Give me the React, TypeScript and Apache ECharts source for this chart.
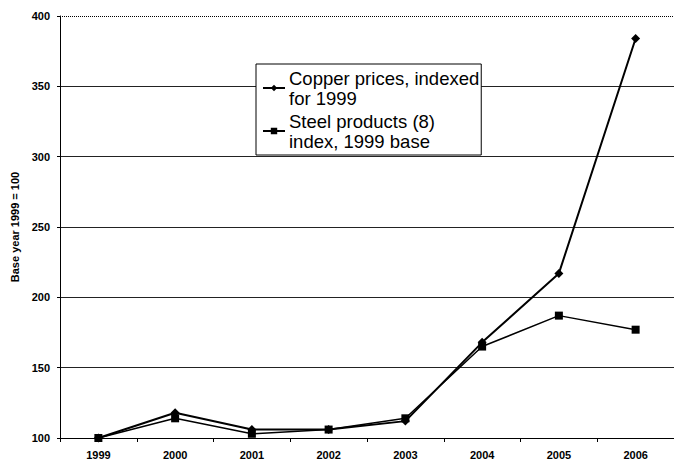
import React, { useEffect, useRef } from "react";
import * as echarts from "echarts";

const years = ["1999", "2000", "2001", "2002", "2003", "2004", "2005", "2006"];
const copper = [100, 118, 106, 106, 112, 168, 217, 384];
const steel = [100, 114, 103, 106, 114, 165, 187, 177];
const copperName = "Copper prices, indexed\nfor 1999";
const steelName = "Steel products (8)\nindex, 1999 base";

export default function App() {
  const ref = useRef<HTMLDivElement>(null);
  useEffect(() => {
    const chart = echarts.init(ref.current!, null, { renderer: "svg" });
    chart.setOption({
      animation: false,
      backgroundColor: "#fff",
      grid: { left: 60, top: 16, width: 616, height: 422, containLabel: false },
      legend: {
        orient: "vertical",
        left: 256,
        top: 64,
        padding: [4, 2, 4, 6],
        itemGap: 3,
        itemWidth: 22,
        itemHeight: 8,
        backgroundColor: "#fff",
        borderColor: "#000",
        borderWidth: 1,
        textStyle: { fontFamily: "Liberation Sans, Arial", fontSize: 18.5, color: "#000", lineHeight: 20, padding: [0, 0, 0, -1] },
        data: [copperName, steelName],
      },
      xAxis: {
        type: "category",
        data: years,
        boundaryGap: true,
        axisLine: { lineStyle: { color: "#000", width: 1 } },
        axisTick: { show: true, length: 4, lineStyle: { color: "#000" } },
        axisLabel: { fontFamily: "Liberation Sans, Arial", fontWeight: "bold", fontSize: 11, color: "#000", margin: 11 },
      },
      yAxis: {
        type: "value",
        min: 100,
        max: 400,
        interval: 50,
        name: "Base year 1999 = 100",
        nameLocation: "middle",
        nameGap: 40,
        nameTextStyle: { fontFamily: "Liberation Sans, Arial", fontWeight: "bold", fontSize: 11, color: "#000" },
        axisLine: { show: true, lineStyle: { color: "#000", width: 1 } },
        axisTick: { show: true, length: 3, lineStyle: { color: "#000" } },
        axisLabel: { fontFamily: "Liberation Sans, Arial", fontWeight: "bold", fontSize: 11, color: "#000", margin: 10 },
        splitLine: { show: true, showMaxLine: false, lineStyle: { color: "#222", width: 1 } },
      },
      series: [
        {
          name: copperName,
          type: "line",
          data: copper,
          symbol: "diamond",
          symbolSize: 9,
          showAllSymbol: true,
          lineStyle: { color: "#000", width: 2 },
          itemStyle: { color: "#000" },
          z: 3,
          markLine: {
            silent: true,
            symbol: "none",
            label: { show: false },
            lineStyle: { color: "#000", type: "dotted", width: 1 },
            data: [{ yAxis: 400 }],
          },
        },
        {
          name: steelName,
          type: "line",
          data: steel,
          symbol: "rect",
          symbolSize: 8,
          showAllSymbol: true,
          lineStyle: { color: "#000", width: 1.5 },
          itemStyle: { color: "#000" },
          z: 2,
        },
      ],
    });
    return () => chart.dispose();
  }, []);
  return <div ref={ref} style={{ width: 674, height: 461, position: "absolute", left: 0, top: 0 }} />;
}
